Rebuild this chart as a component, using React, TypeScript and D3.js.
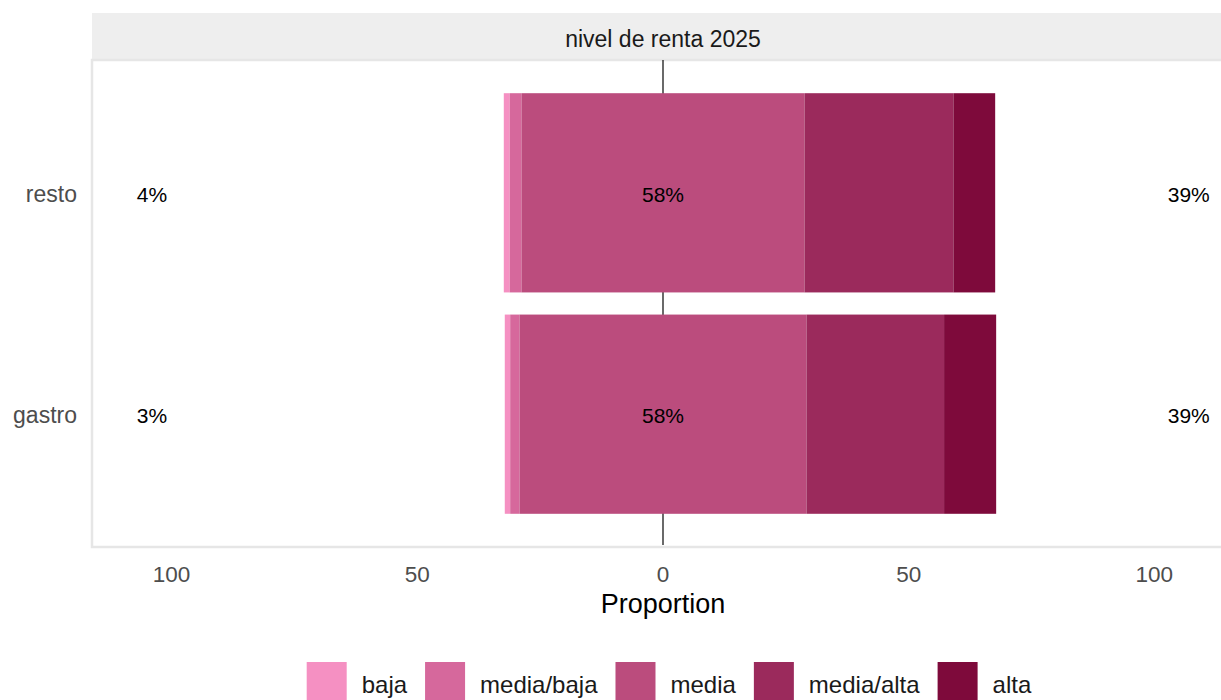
import React, { useEffect, useRef } from "react";
import * as d3 from "d3";

const categories = ["resto", "gastro"];
const levels = ["baja", "media/baja", "media", "media/alta", "alta"];
const baja = [1.2, 1.1];
const mediaBaja = [2.4, 1.9];
const media = [57.6, 58.4];
const mediaAlta = [30.3, 28.0];
const alta = [8.5, 10.6];
const colors = ["#f590c2", "#d6689c", "#bb4c7d", "#9b2a5c", "#7e0a3b"];
const xTicks = [-100, -50, 0, 50, 100];
const stripTitle = "nivel de renta 2025";
const xTitle = "Proportion";

const W = 1221;
const H = 700;
const FONT = "'Liberation Sans', Arial, sans-serif";

export default function App() {
  const ref = useRef<SVGSVGElement>(null);

  useEffect(() => {
    const svg = d3.select(ref.current);
    svg.selectAll("*").remove();

    const left = 93, right = 1233, top = 60, bottom = 547, stripTop = 13;
    const x = d3.scaleLinear().domain([-116, 116]).range([left, right]);
    const y = d3.scaleBand<string>().domain(categories).range([top, bottom]).paddingInner(0.1).paddingOuter(0.15);

    // strip
    svg.append("rect").attr("x", left - 1).attr("y", stripTop).attr("width", right - left + 1).attr("height", top - stripTop).attr("fill", "#eeeeee");
    svg.append("text").attr("x", x(0)).attr("y", 47).attr("text-anchor", "middle").attr("font-family", FONT).attr("font-size", 23).attr("fill", "#1a1a1a").text(stripTitle);

    // panel border
    svg.append("rect").attr("x", left - 1).attr("y", top).attr("width", right - left + 1).attr("height", bottom - top).attr("fill", "white").attr("stroke", "#e6e6e6").attr("stroke-width", 2.5);

    // zero line
    svg.append("line").attr("x1", x(0)).attr("x2", x(0)).attr("y1", top).attr("y2", bottom - 2).attr("stroke", "#1a1a1a").attr("stroke-width", 1.3);

    const series = [baja, mediaBaja, media, mediaAlta, alta];
    categories.forEach((cat, i) => {
      const vals = series.map((s) => s[i]);
      const lowSum = vals[0] + vals[1] + vals[2] / 2;
      let start = -lowSum;
      const y0 = y(cat)!;
      const bh = y.bandwidth();
      vals.forEach((v, j) => {
        svg.append("rect").attr("x", x(start)).attr("y", y0).attr("width", x(start + v) - x(start)).attr("height", bh).attr("fill", colors[j]);
        start += v;
      });
      const cy = y0 + bh / 2;
      const low = Math.round(vals[0] + vals[1]);
      const mid = Math.round(vals[2]);
      const high = Math.round(vals[3] + vals[4]);
      const lab = (xv: number, t: string) =>
        svg.append("text").attr("x", x(xv)).attr("y", cy + 9).attr("text-anchor", "middle").attr("font-family", FONT).attr("font-size", 21).attr("fill", "#000").text(t);
      lab(-104, `${low}%`);
      lab(0, `${mid}%`);
      lab(107, `${high}%`);
      svg.append("text").attr("x", 77).attr("y", cy + 9).attr("text-anchor", "end").attr("font-family", FONT).attr("font-size", 23).attr("fill", "#4d4d4d").text(cat);
    });

    // x axis tick labels
    xTicks.forEach((t) => {
      svg.append("text").attr("x", x(t)).attr("y", 582).attr("text-anchor", "middle").attr("font-family", FONT).attr("font-size", 22.5).attr("fill", "#4d4d4d").text(String(Math.abs(t)));
    });
    svg.append("text").attr("x", x(0)).attr("y", 613).attr("text-anchor", "middle").attr("font-family", FONT).attr("font-size", 27).attr("fill", "#000").text(xTitle);

    // legend
    const g = svg.append("g");
    let cx = 0;
    const boxW = 40, textGap = 15, itemGap = 18;
    levels.forEach((lv, i) => {
      g.append("rect").attr("x", cx).attr("y", 662).attr("width", boxW).attr("height", 40).attr("fill", colors[i]);
      const t = g.append("text").attr("x", cx + boxW + textGap).attr("y", 693).attr("font-family", FONT).attr("font-size", 24).attr("fill", "#1a1a1a").text(lv);
      const tw = (t.node() as SVGTextElement).getComputedTextLength();
      cx += boxW + textGap + tw + (i < levels.length - 1 ? itemGap : 0);
    });
    const startX = 669 - cx / 2;
    g.attr("transform", `translate(${startX},0)`);
  }, []);

  return (
    <svg ref={ref} width={W} height={H} style={{ position: "absolute", left: 0, top: 0, background: "white" }} />
  );
}
